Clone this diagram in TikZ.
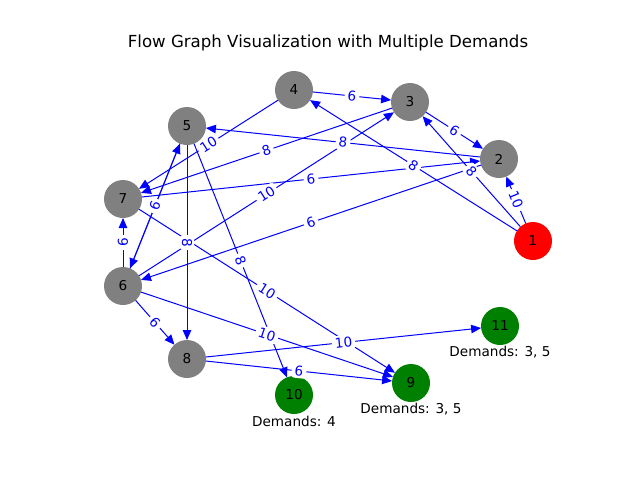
\documentclass[tikz,border=0pt]{standalone}
\usepackage{fontspec}
\setmainfont{DejaVu Sans}
\usetikzlibrary{arrows.meta}
\definecolor{mplgreen}{RGB}{0,128,0}
\definecolor{mplgray}{RGB}{128,128,128}
\definecolor{mplred}{RGB}{255,0,0}
\definecolor{mplblue}{RGB}{0,0,255}
\begin{document}
\begin{tikzpicture}[x=1pt,y=-1pt,
  vtx/.style={circle, minimum size=38pt, inner sep=0pt, outer sep=0pt, text=black,
    font=\fontsize{13.6}{15}\selectfont},
  graynode/.style={vtx, fill=mplgray},
  rednode/.style={vtx, fill=mplred},
  greennode/.style={vtx, fill=mplgreen},
  flow/.style={draw=mplblue, line width=1pt, -{Triangle[length=10pt,width=8.5pt]}},
  wlab/.style={sloped, pos=0.5, fill=white, text=mplblue, inner xsep=3pt, inner ysep=2pt,
    rounded corners=3pt, font=\fontsize{13.6}{15}\selectfont},
  demand/.style={text=black, inner sep=0pt, font=\fontsize{13.6}{15}\selectfont},
  titletext/.style={text=black, inner sep=0pt, font=\fontsize{16.6}{19}\selectfont},
]
\useasboundingbox[fill=white] (0,0) rectangle (640,480);
\node[titletext] (title) at (328,43) {Flow Graph Visualization with Multiple Demands};

\node[rednode]   (n1)  at (533,241) {1};
\node[graynode]  (n2)  at (499,159) {2};
\node[graynode]  (n3)  at (410,102) {3};
\node[graynode]  (n4)  at (294,90)  {4};
\node[graynode]  (n5)  at (187,126) {5};
\node[graynode]  (n6)  at (123,286) {6};
\node[graynode]  (n7)  at (123,199) {7};
\node[graynode]  (n8)  at (187,359) {8};
\node[greennode] (n9)  at (411,383) {9};
\node[greennode] (n10) at (294,395) {10};
\node[greennode] (n11) at (500,326) {11};

\node[demand] (d11) at (500,352) {Demands: 3, 5};
\node[demand] (d9)  at (411,409) {Demands: 3, 5};
\node[demand] (d10) at (294,421) {Demands: 4};

% edges
\draw[flow] (n1) -- (n2);
\draw[flow] (n1) -- (n3);
\draw[flow] (n1) -- (n4);
\draw[flow] (n4) -- (n3);
\draw[flow] (n3) -- (n2);
\draw[flow] (n2) -- (n5);
\draw[flow] (n7) -- (n2);
\draw[flow] (n2) -- (n6);
\draw[flow] (n4) -- (n7);
\draw[flow] (n3) -- (n7);
\draw[flow] (n6) -- (n3);
\draw[flow] (n5) -- (n6);
\draw[flow] (n6) -- (n5);
\draw[flow] (n6) -- (n7);
\draw[flow] (n5) -- (n8);
\draw[flow] (n5) -- (n10);
\draw[flow] (n6) -- (n8);
\draw[flow] (n6) -- (n9);
\draw[flow] (n7) -- (n9);
\draw[flow] (n8) -- (n9);
\draw[flow] (n8) -- (n11);

% labels
\path (n1) -- (n2) node[wlab] (l12) {10};
\path (n1) -- (n3) node[wlab] (l13) {8};
\path (n1) -- (n4) node[wlab] (l14) {8};
\path (n4) -- (n3) node[wlab] (l43) {6};
\path (n3) -- (n2) node[wlab] (l32) {6};
\path (n2) -- (n5) node[wlab] (l25) {8};
\path (n7) -- (n2) node[wlab] (l72) {6};
\path (n2) -- (n6) node[wlab] (l26) {6};
\path (n4) -- (n7) node[wlab] (l47) {10};
\path (n3) -- (n7) node[wlab] (l37) {8};
\path (n6) -- (n3) node[wlab] (l63) {10};
\path (n5) -- (n6) node[wlab] (l56) {6};
\path (n6) -- (n7) node[wlab] (l67) {6};
\path (n5) -- (n8) node[wlab] (l58) {8};
\path (n5) -- (n10) node[wlab] (l510) {8};
\path (n6) -- (n8) node[wlab] (l68) {6};
\path (n6) -- (n9) node[wlab] (l69) {10};
\path (n7) -- (n9) node[wlab] (l79) {10};
\path (n8) -- (n9) node[wlab] (l89) {6};
\path (n8) -- (n11) node[wlab] (l811) {10};
\end{tikzpicture}
\end{document}
